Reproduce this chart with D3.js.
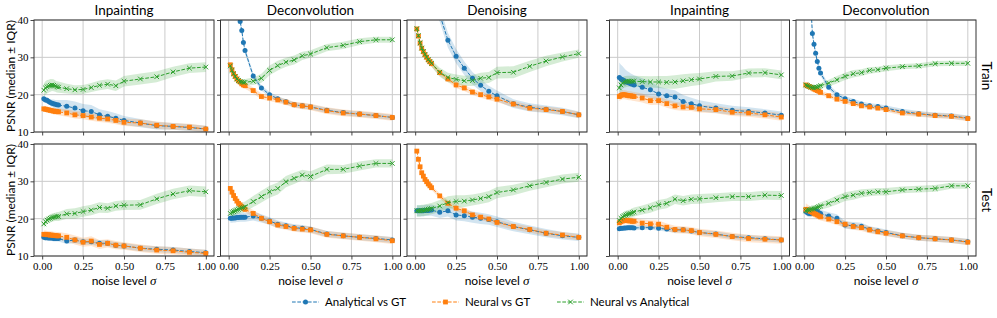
<!DOCTYPE html>
<html>
<head>
<meta charset="utf-8">
<script src="https://cdnjs.cloudflare.com/ajax/libs/d3/7.8.5/d3.min.js"></script>
<style>
  html, body { margin: 0; padding: 0; background: #fff; }
  svg { display: block; }
  .sans { font-family: Lato, "Open Sans", sans-serif; fill: #000; }
  .tick text { font-family: "Liberation Serif", "DejaVu Serif", serif; font-size: 11px; fill: #000; }
</style>
</head>
<body>
<svg id="chart" width="997" height="318"></svg>
<script>
// noise levels (x) shared by every panel
const sigma = [0.01, 0.02, 0.03, 0.04, 0.05, 0.06, 0.07, 0.08, 0.09, 0.10,
  0.15, 0.20, 0.25, 0.30, 0.35, 0.40, 0.45, 0.50, 0.60, 0.70, 0.80, 0.90, 1.00];

const panelTitles = ["Inpainting", "Deconvolution", "Denoising", "Inpainting", "Deconvolution"];
const rowLabels = ["Train", "Test"];
const seriesLabels = ["Analytical vs GT", "Neural vs GT", "Neural vs Analytical"];
const xTicks = [0, 0.25, 0.5, 0.75, 1];
const yTicks = [10, 20, 30, 40];

// ---- Train row: medians and IQR half-widths ----
const trInp1Ana = [18.9, 18.6, 18.5, 18.2, 17.9, 17.7, 17.6, 17.4, 17.3, 17.2, 16.9, 16.4, 15.7, 15.5, 14.6, 14.2, 13.7, 13.1, 12.4, 11.7, 11.5, 11.2, 10.8];
const trInp1AnaIqr = [0.7, 0.7, 0.8, 0.8, 0.9, 1.0, 1.1, 1.2, 1.3, 1.4, 1.7, 1.8, 1.8, 1.7, 1.5, 1.4, 1.3, 1.2, 1.1, 1.0, 0.9, 0.9, 0.9];
const trInp1Neu = [16.2, 16.1, 16.0, 15.9, 15.8, 15.7, 15.6, 15.5, 15.5, 15.4, 15.1, 14.6, 14.4, 14.0, 13.7, 13.5, 13.1, 12.6, 12.4, 11.8, 11.5, 11.3, 10.8];
const trInp1NeuIqr = [0.8, 0.8, 0.8, 0.8, 0.8, 0.8, 0.9, 0.9, 0.9, 0.9, 1.0, 1.0, 1.0, 1.0, 1.0, 1.0, 1.0, 1.0, 1.0, 1.0, 0.9, 0.9, 0.9];
const trInp1NA = [21.2, 21.8, 22.1, 22.3, 22.5, 22.6, 22.5, 22.3, 22.1, 22.0, 21.6, 21.3, 21.4, 21.9, 22.5, 22.8, 22.4, 23.6, 24.2, 24.8, 26.1, 27.1, 27.4];
const trInp1NAIqr = [1.8, 1.8, 1.8, 1.7, 1.7, 1.6, 1.6, 1.5, 1.5, 1.5, 1.3, 1.2, 1.2, 1.2, 1.3, 1.3, 1.4, 1.4, 1.5, 1.5, 1.4, 1.3, 1.3];

const trDec1Ana = [62, 56, 51, 47, 44, 42, 39.6, 37.2, 34.0, 31.8, 25.0, 21.8, 20.0, 18.9, 18.1, 17.3, 17.0, 16.7, 15.8, 15.2, 14.8, 14.4, 13.9];
const trDec1AnaIqr = [1.5, 1.4, 1.3, 1.2, 1.1, 1.0, 1.0, 1.0, 0.9, 0.9, 0.8, 0.7, 0.7, 0.7, 0.7, 0.7, 0.7, 0.7, 0.7, 0.7, 0.7, 0.7, 0.7];
const trDec1Neu = [28.0, 26.7, 25.6, 24.9, 24.2, 23.7, 23.4, 22.9, 22.6, 22.4, 21.1, 19.5, 19.1, 18.6, 18.0, 17.3, 17.0, 16.7, 15.7, 15.1, 14.8, 14.4, 13.9];
const trDec1NeuIqr = [0.8, 0.8, 0.8, 0.8, 0.8, 0.8, 0.8, 0.8, 0.8, 0.8, 0.8, 0.8, 0.8, 0.8, 0.8, 0.8, 0.9, 0.9, 0.9, 0.9, 0.9, 0.9, 0.9];
const trDec1NA = [27.7, 26.5, 25.6, 24.9, 24.2, 23.8, 23.5, 23.4, 23.3, 23.3, 23.6, 24.4, 26.5, 27.8, 28.7, 29.3, 30.4, 30.9, 32.6, 33.2, 34.2, 34.7, 34.7];
const trDec1NAIqr = [0.8, 0.8, 0.8, 0.8, 0.8, 0.8, 0.8, 0.8, 0.9, 0.9, 1.0, 1.2, 1.3, 1.3, 1.2, 1.2, 1.1, 1.0, 1.0, 1.0, 0.9, 0.8, 0.8];

const trDenAna = [90, 80, 72, 66, 61, 57, 53, 50, 48, 46, 41.5, 34.6, 30.3, 27.1, 24.4, 22.5, 20.9, 19.7, 17.6, 16.6, 16.1, 15.5, 14.6];
const trDenAnaIqr = [2.0, 2.0, 2.0, 2.0, 2.0, 2.0, 2.0, 2.0, 2.0, 2.0, 2.0, 2.0, 1.9, 1.8, 1.7, 1.6, 1.5, 1.4, 1.2, 1.1, 1.0, 1.0, 0.9];
const trDenNeu = [37.6, 35.7, 33.8, 32.4, 31.5, 30.7, 30.0, 29.3, 28.8, 28.3, 25.9, 24.2, 22.6, 21.8, 20.7, 20.0, 19.4, 18.8, 17.5, 16.4, 16.0, 15.5, 14.6];
const trDenNeuIqr = [0.8, 0.8, 0.8, 0.8, 0.8, 0.8, 0.8, 0.8, 0.8, 0.8, 0.8, 0.8, 0.8, 0.8, 0.8, 0.8, 0.8, 0.8, 0.8, 0.8, 0.8, 0.8, 0.8];
const trDenNA = [37.7, 35.8, 33.9, 32.5, 31.6, 30.8, 30.1, 29.4, 28.9, 28.4, 26.0, 24.6, 24.1, 23.7, 23.8, 24.4, 24.6, 25.9, 26.0, 27.6, 29.0, 30.1, 31.0];
const trDenNAIqr = [0.5, 0.5, 0.6, 0.6, 0.7, 0.7, 0.8, 0.8, 0.9, 0.9, 1.2, 1.3, 1.3, 1.4, 1.5, 1.5, 1.5, 1.6, 1.6, 1.5, 1.4, 1.2, 1.1];

const trInp2Ana = [24.6, 24.2, 24.0, 23.7, 23.4, 23.3, 23.1, 22.9, 22.8, 22.6, 22.0, 21.3, 20.2, 19.7, 19.4, 18.2, 17.6, 17.0, 16.4, 15.8, 15.5, 15.1, 14.5];
const trInp2AnaIqr = [4.0, 3.8, 3.6, 3.4, 3.2, 3.0, 2.9, 2.8, 2.7, 2.6, 2.4, 2.2, 2.0, 1.9, 1.8, 1.7, 1.6, 1.5, 1.3, 1.2, 1.1, 1.0, 1.0];
const trInp2Neu = [19.5, 19.8, 20.0, 20.0, 19.9, 19.8, 19.7, 19.7, 19.6, 19.5, 19.1, 18.4, 18.4, 17.6, 17.0, 16.7, 16.6, 16.2, 16.0, 15.3, 15.1, 14.6, 14.0];
const trInp2NeuIqr = [1.2, 1.2, 1.2, 1.2, 1.2, 1.2, 1.2, 1.2, 1.2, 1.2, 1.2, 1.2, 1.1, 1.1, 1.1, 1.1, 1.0, 1.0, 1.0, 1.0, 1.0, 1.0, 1.0];
const trInp2NA = [21.8, 22.6, 23.1, 23.4, 23.5, 23.6, 23.6, 23.6, 23.6, 23.6, 23.5, 23.4, 23.4, 23.3, 23.4, 23.7, 24.0, 24.2, 24.9, 25.0, 25.8, 25.9, 25.3];
const trInp2NAIqr = [1.5, 1.5, 1.5, 1.5, 1.5, 1.5, 1.5, 1.5, 1.5, 1.5, 1.5, 1.5, 1.6, 1.7, 1.8, 1.8, 1.7, 1.6, 1.4, 1.3, 1.2, 1.2, 1.2];

const trDec2Ana = [70, 60, 52, 45, 36.4, 33.5, 31.1, 28.9, 27.1, 25.8, 22.0, 20.0, 18.9, 18.2, 17.5, 17.0, 16.8, 16.4, 15.5, 14.9, 14.5, 14.3, 13.7];
const trDec2AnaIqr = [0.8, 0.8, 0.8, 0.8, 0.8, 0.8, 0.8, 0.8, 0.8, 0.8, 0.7, 0.7, 0.7, 0.7, 0.7, 0.7, 0.7, 0.7, 0.7, 0.7, 0.7, 0.7, 0.7];
const trDec2Neu = [22.6, 22.4, 22.2, 22.0, 21.8, 21.5, 21.3, 21.1, 20.9, 20.6, 19.7, 18.8, 18.2, 17.6, 17.0, 16.7, 16.4, 16.0, 15.1, 14.8, 14.4, 14.2, 13.6];
const trDec2NeuIqr = [0.6, 0.6, 0.6, 0.6, 0.6, 0.6, 0.6, 0.6, 0.6, 0.6, 0.6, 0.6, 0.6, 0.6, 0.6, 0.6, 0.6, 0.6, 0.7, 0.7, 0.7, 0.7, 0.7];
const trDec2NA = [22.6, 22.4, 22.2, 22.0, 21.9, 21.9, 22.0, 22.0, 22.2, 22.4, 23.1, 24.0, 24.9, 25.6, 25.9, 26.5, 26.7, 27.1, 27.5, 27.7, 28.3, 28.4, 28.4];
const trDec2NAIqr = [0.6, 0.6, 0.6, 0.6, 0.6, 0.6, 0.6, 0.7, 0.7, 0.7, 0.9, 1.0, 1.0, 1.0, 0.9, 0.9, 0.8, 0.8, 0.7, 0.7, 0.7, 0.7, 0.7];

// ---- Test row ----
const teInp1Ana = [15.0, 14.9, 14.9, 14.8, 14.8, 14.8, 14.7, 14.7, 14.7, 14.7, 14.0, 14.3, 13.8, 13.8, 13.4, 13.4, 12.9, 12.7, 12.1, 11.8, 11.6, 11.2, 10.9];
const teInp1AnaIqr = [0.8, 0.8, 0.8, 0.8, 0.8, 0.8, 0.8, 0.8, 0.8, 0.8, 0.8, 0.8, 0.8, 0.8, 0.8, 0.8, 0.8, 0.8, 0.8, 0.8, 0.8, 0.8, 0.8];
const teInp1Neu = [15.8, 15.8, 15.7, 15.7, 15.6, 15.6, 15.5, 15.5, 15.4, 15.4, 15.0, 14.3, 13.7, 14.0, 13.1, 13.4, 12.9, 12.7, 12.1, 11.6, 11.4, 11.0, 10.7];
const teInp1NeuIqr = [1.0, 1.0, 1.0, 1.0, 1.0, 1.0, 1.0, 1.0, 1.0, 1.0, 1.1, 1.2, 1.2, 1.3, 1.2, 1.1, 1.1, 1.0, 1.0, 1.0, 1.0, 1.0, 1.0];
const teInp1NA = [18.6, 19.2, 19.6, 19.9, 20.1, 20.3, 20.4, 20.5, 20.6, 20.6, 21.3, 21.4, 21.9, 22.3, 23.0, 22.8, 23.4, 23.6, 23.7, 25.3, 26.6, 27.5, 27.2];
const teInp1NAIqr = [1.0, 1.0, 1.0, 1.0, 1.1, 1.1, 1.1, 1.1, 1.2, 1.2, 1.3, 1.4, 1.4, 1.4, 1.4, 1.3, 1.3, 1.3, 1.3, 1.4, 1.4, 1.4, 1.4];

const teDec1Ana = [20.1, 20.1, 20.2, 20.2, 20.3, 20.3, 20.4, 20.4, 20.4, 20.4, 20.7, 20.1, 19.4, 18.5, 18.1, 17.6, 17.4, 17.1, 15.9, 15.4, 15.0, 14.7, 14.3];
const teDec1AnaIqr = [1.2, 1.2, 1.2, 1.2, 1.2, 1.2, 1.2, 1.2, 1.2, 1.2, 1.2, 1.1, 1.0, 1.0, 0.9, 0.9, 0.9, 0.8, 0.8, 0.8, 0.8, 0.8, 0.8];
const teDec1Neu = [28.1, 27.1, 26.2, 25.4, 24.7, 24.1, 23.7, 23.2, 22.8, 22.5, 21.4, 20.1, 19.2, 18.3, 17.9, 17.4, 17.2, 17.0, 15.8, 15.4, 15.0, 14.6, 14.1];
const teDec1NeuIqr = [0.8, 0.8, 0.8, 0.8, 0.8, 0.8, 0.8, 0.8, 0.8, 0.8, 0.9, 0.9, 0.9, 0.9, 0.9, 0.9, 0.9, 0.9, 0.9, 0.9, 0.9, 0.9, 0.9];
const teDec1NA = [21.4, 21.7, 21.9, 22.1, 22.3, 22.5, 22.7, 22.9, 23.0, 23.2, 24.6, 25.9, 27.2, 28.1, 29.9, 30.8, 31.7, 31.3, 33.2, 33.2, 34.1, 34.8, 34.8];
const teDec1NAIqr = [1.0, 1.0, 1.1, 1.1, 1.2, 1.2, 1.3, 1.3, 1.4, 1.4, 1.5, 1.6, 1.6, 1.6, 1.5, 1.5, 1.4, 1.4, 1.3, 1.2, 1.2, 1.1, 1.1];

const teDenAna = [22.1, 22.1, 22.1, 22.1, 22.1, 22.2, 22.2, 22.2, 22.3, 22.3, 21.7, 22.1, 21.0, 20.8, 20.4, 20.1, 19.8, 19.2, 17.9, 17.0, 16.1, 15.4, 15.0];
const teDenAnaIqr = [1.5, 1.5, 1.5, 1.5, 1.5, 1.5, 1.5, 1.5, 1.5, 1.5, 1.5, 1.5, 1.5, 1.5, 1.5, 1.5, 1.4, 1.4, 1.3, 1.2, 1.1, 1.0, 1.0];
const teDenNeu = [38.1, 35.9, 33.9, 32.3, 31.4, 30.5, 29.9, 29.3, 28.8, 28.3, 26.1, 24.1, 22.8, 22.1, 21.0, 20.4, 19.9, 19.0, 17.9, 17.1, 16.1, 15.6, 15.0];
const teDenNeuIqr = [0.6, 0.6, 0.6, 0.6, 0.6, 0.6, 0.6, 0.6, 0.6, 0.6, 0.7, 0.8, 0.8, 0.8, 0.8, 0.8, 0.8, 0.8, 0.8, 0.8, 0.8, 0.8, 0.8];
const teDenNA = [22.1, 22.1, 22.1, 22.2, 22.2, 22.3, 22.4, 22.5, 22.6, 22.7, 23.4, 24.3, 24.6, 24.7, 25.0, 25.4, 25.9, 27.0, 27.7, 28.8, 29.7, 30.6, 31.1];
const teDenNAIqr = [1.5, 1.5, 1.5, 1.5, 1.5, 1.5, 1.5, 1.5, 1.5, 1.5, 1.6, 1.7, 1.7, 1.6, 1.5, 1.5, 1.5, 1.5, 1.4, 1.3, 1.3, 1.2, 1.2];

const teInp2Ana = [17.3, 17.4, 17.4, 17.5, 17.5, 17.6, 17.6, 17.6, 17.6, 17.5, 17.6, 17.6, 17.4, 17.2, 17.0, 17.0, 16.7, 16.3, 15.9, 15.2, 14.9, 14.6, 14.3];
const teInp2AnaIqr = [0.6, 0.6, 0.6, 0.6, 0.6, 0.6, 0.6, 0.6, 0.6, 0.6, 0.6, 0.6, 0.6, 0.7, 0.7, 0.7, 0.7, 0.7, 0.7, 0.7, 0.7, 0.7, 0.7];
const teInp2Neu = [18.9, 19.2, 19.4, 19.5, 19.5, 19.5, 19.4, 19.4, 19.3, 19.3, 18.8, 18.6, 18.5, 17.7, 17.1, 17.0, 16.8, 16.3, 15.8, 15.2, 14.7, 14.5, 14.3];
const teInp2NeuIqr = [1.0, 1.0, 1.0, 1.0, 1.0, 1.0, 1.0, 1.0, 1.0, 1.0, 1.0, 1.0, 1.0, 1.0, 1.0, 1.0, 1.0, 1.0, 1.0, 1.0, 1.0, 1.0, 1.0];
const teInp2NA = [19.5, 20.1, 20.5, 20.8, 21.0, 21.2, 21.3, 21.4, 21.6, 21.8, 22.3, 22.9, 23.7, 24.1, 25.2, 24.8, 25.2, 25.3, 25.6, 25.9, 25.9, 26.3, 26.2];
const teInp2NAIqr = [1.0, 1.0, 1.0, 1.1, 1.1, 1.1, 1.1, 1.1, 1.2, 1.2, 1.2, 1.3, 1.3, 1.3, 1.3, 1.3, 1.3, 1.3, 1.2, 1.2, 1.2, 1.2, 1.2];

const teDec2Ana = [21.9, 21.6, 21.4, 21.4, 21.6, 21.9, 22.1, 21.9, 21.6, 21.4, 20.7, 20.1, 18.3, 18.1, 18.0, 17.1, 16.7, 16.3, 15.4, 14.9, 14.6, 14.3, 13.8];
const teDec2AnaIqr = [1.0, 1.0, 1.0, 1.0, 1.0, 1.0, 1.0, 1.0, 1.0, 1.0, 1.0, 1.1, 1.0, 1.0, 0.9, 0.9, 0.9, 0.8, 0.8, 0.8, 0.8, 0.8, 0.8];
const teDec2Neu = [22.5, 22.3, 22.1, 21.9, 21.7, 21.4, 21.2, 21.0, 20.7, 20.5, 19.9, 19.2, 18.5, 17.9, 17.6, 17.0, 16.5, 16.1, 15.4, 14.9, 14.6, 14.3, 13.7];
const teDec2NeuIqr = [1.6, 1.5, 1.4, 1.3, 1.2, 1.1, 1.0, 1.0, 1.0, 1.0, 0.9, 0.9, 0.9, 0.9, 0.9, 0.9, 0.8, 0.8, 0.8, 0.8, 0.8, 0.8, 0.8];
const teDec2NA = [22.1, 22.3, 22.3, 22.5, 22.6, 22.7, 22.8, 23.0, 23.2, 23.4, 24.1, 25.0, 25.9, 26.3, 26.8, 27.0, 27.2, 27.2, 27.7, 27.9, 28.1, 28.8, 28.8];
const teDec2NAIqr = [0.8, 0.8, 0.8, 0.8, 0.9, 0.9, 0.9, 0.9, 1.0, 1.0, 1.1, 1.2, 1.2, 1.2, 1.1, 1.0, 1.0, 1.0, 0.9, 0.9, 0.9, 0.8, 0.8];

// panels[row][col] -> [ [median, iqr] per series ]
const panels = [
  [
    [[trInp1Ana, trInp1AnaIqr], [trInp1Neu, trInp1NeuIqr], [trInp1NA, trInp1NAIqr]],
    [[trDec1Ana, trDec1AnaIqr], [trDec1Neu, trDec1NeuIqr], [trDec1NA, trDec1NAIqr]],
    [[trDenAna, trDenAnaIqr], [trDenNeu, trDenNeuIqr], [trDenNA, trDenNAIqr]],
    [[trInp2Ana, trInp2AnaIqr], [trInp2Neu, trInp2NeuIqr], [trInp2NA, trInp2NAIqr]],
    [[trDec2Ana, trDec2AnaIqr], [trDec2Neu, trDec2NeuIqr], [trDec2NA, trDec2NAIqr]]
  ],
  [
    [[teInp1Ana, teInp1AnaIqr], [teInp1Neu, teInp1NeuIqr], [teInp1NA, teInp1NAIqr]],
    [[teDec1Ana, teDec1AnaIqr], [teDec1Neu, teDec1NeuIqr], [teDec1NA, teDec1NAIqr]],
    [[teDenAna, teDenAnaIqr], [teDenNeu, teDenNeuIqr], [teDenNA, teDenNAIqr]],
    [[teInp2Ana, teInp2AnaIqr], [teInp2Neu, teInp2NeuIqr], [teInp2NA, teInp2NAIqr]],
    [[teDec2Ana, teDec2AnaIqr], [teDec2Neu, teDec2NeuIqr], [teDec2NA, teDec2NAIqr]]
  ]
];

// ---- layout ----
const colors = ["#1f77b4", "#ff7f0e", "#2ca02c"];
const panelW = 180, panelH = 112;
const colLeft = [34, 220.5, 407, 609.5, 796];
const rowTop = [20, 144];

const svg = d3.select("#chart");

const x = d3.scaleLinear().domain([-0.05, 1.05]).range([0, panelW]);
const y = d3.scaleLinear().domain([10, 40]).range([panelH, 0]);

function marker(sel, k, color) {
  if (k === 0) {
    sel.append("circle").attr("r", 2.5).attr("fill", color);
  } else if (k === 1) {
    sel.append("rect").attr("x", -2.4).attr("y", -2.4).attr("width", 4.8).attr("height", 4.8).attr("fill", color);
  } else {
    sel.append("path").attr("d", "M-2.3,-2.3L2.3,2.3M-2.3,2.3L2.3,-2.3")
      .attr("stroke", color).attr("stroke-width", 1).attr("fill", "none");
  }
}

panels.forEach(function(rowPanels, r) {
  rowPanels.forEach(function(series, c) {
    const g = svg.append("g").attr("transform", "translate(" + colLeft[c] + "," + rowTop[r] + ")");
    const clipId = "clip-" + r + "-" + c;
    g.append("clipPath").attr("id", clipId)
      .append("rect").attr("width", panelW).attr("height", panelH);

    // grid
    g.selectAll(".gx").data(xTicks).enter().append("line")
      .attr("x1", d => x(d)).attr("x2", d => x(d)).attr("y1", 0).attr("y2", panelH)
      .attr("stroke", "#cbcbcb").attr("stroke-width", 1);
    g.selectAll(".gy").data(yTicks).enter().append("line")
      .attr("x1", 0).attr("x2", panelW).attr("y1", d => y(d)).attr("y2", d => y(d))
      .attr("stroke", "#cbcbcb").attr("stroke-width", 1);

    const plot = g.append("g").attr("clip-path", "url(#" + clipId + ")");

    series.forEach(function(s, k) {
      const med = s[0], iqr = s[1];
      const area = d3.area()
        .x((d, i) => x(sigma[i]))
        .y0((d, i) => y(med[i] - iqr[i]))
        .y1((d, i) => y(med[i] + iqr[i]));
      plot.append("path").datum(med).attr("d", area)
        .attr("fill", colors[k]).attr("fill-opacity", 0.2).attr("stroke", "none");
    });

    series.forEach(function(s, k) {
      const med = s[0];
      const line = d3.line().x((d, i) => x(sigma[i])).y(d => y(d));
      plot.append("path").datum(med).attr("d", line)
        .attr("fill", "none").attr("stroke", colors[k]).attr("stroke-width", 1)
        .attr("stroke-dasharray", "3.7,1.6");
      plot.selectAll(".m" + k).data(med).enter().append("g")
        .attr("transform", (d, i) => "translate(" + x(sigma[i]) + "," + y(d) + ")")
        .each(function() { marker(d3.select(this), k, colors[k]); });
    });

    // axes
    const xAxis = d3.axisBottom(x).tickValues(xTicks).tickSize(3.5).tickPadding(2.5)
      .tickFormat(r === 1 ? d3.format(".2f") : "");
    const yAxis = d3.axisLeft(y).tickValues(yTicks).tickSize(3.5).tickPadding(2)
      .tickFormat(c === 0 ? d3.format("d") : "");
    const xa = g.append("g").attr("transform", "translate(0," + panelH + ")").call(xAxis);
    const ya = g.append("g").call(yAxis);
    [xa, ya].forEach(function(a) {
      a.select(".domain").remove();
      a.selectAll(".tick line").attr("stroke", "#333").attr("stroke-width", 0.9);
    });

    // frame
    g.append("rect").attr("width", panelW).attr("height", panelH)
      .attr("fill", "none").attr("stroke", "#333").attr("stroke-width", 1);

    if (r === 0) {
      g.append("text").attr("class", "sans").attr("x", panelW / 2).attr("y", -5)
        .attr("text-anchor", "middle").attr("font-size", 13.5).text(panelTitles[c]);
    } else {
      const xl = g.append("text").attr("class", "sans").attr("x", panelW / 2).attr("y", panelH + 29)
        .attr("text-anchor", "middle").attr("font-size", 12);
      xl.append("tspan").text("noise level ");
      xl.append("tspan").attr("font-family", "Liberation Serif, serif").attr("font-style", "italic")
        .attr("font-size", 13).text("σ");
    }
    if (c === 0) {
      g.append("text").attr("class", "sans")
        .attr("transform", "translate(-19," + panelH / 2 + ") rotate(-90)")
        .attr("text-anchor", "middle").attr("font-size", 12).text("PSNR (median ± IQR)");
    }
    if (c === 4) {
      g.append("text").attr("class", "sans")
        .attr("transform", "translate(" + (panelW + 6) + "," + panelH / 2 + ") rotate(90)")
        .attr("text-anchor", "middle").attr("font-size", 13.5).text(rowLabels[r]);
    }
  });
});

// legend
const legendX = [292, 432, 557];
const legend = svg.append("g").attr("transform", "translate(0,302)");
seriesLabels.forEach(function(label, k) {
  const lg = legend.append("g").attr("transform", "translate(" + legendX[k] + ",0)");
  lg.append("line").attr("x1", 0).attr("x2", 27).attr("y1", 0).attr("y2", 0)
    .attr("stroke", colors[k]).attr("stroke-width", 1).attr("stroke-dasharray", "3.7,1.6");
  const m = lg.append("g").attr("transform", "translate(13.5,0)");
  marker(m, k, colors[k]);
  lg.append("text").attr("class", "sans").attr("x", 33).attr("y", 4)
    .attr("font-size", 11.5).text(label);
});
</script>
</body>
</html>
